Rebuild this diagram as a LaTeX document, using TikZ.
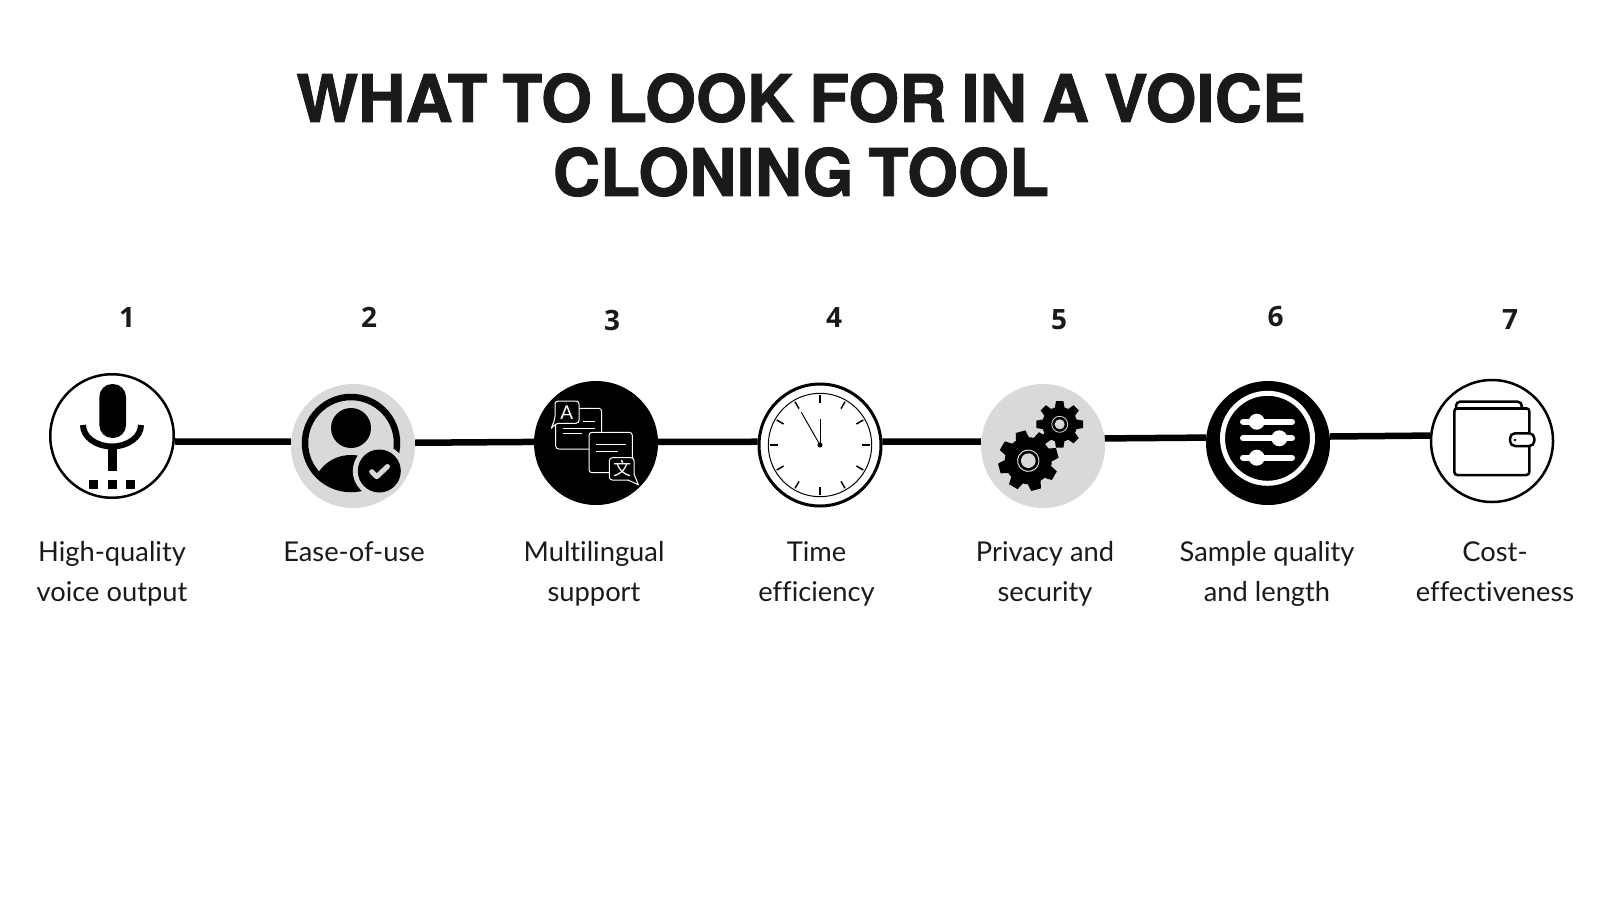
\documentclass[tikz,border=0pt]{standalone}
\usepackage{fontspec}
\setmainfont[Ligatures=NoCommon]{Lato}
\newfontfamily\titlefont[FakeBold=1.2,WordSpace=0.82]{TeX Gyre Heros Bold}
\newfontfamily\numerofont{Open Sans}
\newfontfamily\cjkfont{Noto Sans CJK SC}
\definecolor{gris}{HTML}{D9D9D9}
\definecolor{tinta}{HTML}{1A1A1A}

\begin{document}
\begin{tikzpicture}[x=1pt,y=-1pt]
\tikzstyle{circulo}=[circle,draw=black,line width=2.5pt,fill=white,minimum size=122pt,inner sep=0pt]
\tikzstyle{circulo gris}=[circle,fill=gris,minimum size=124pt,inner sep=0pt]
\tikzstyle{circulo negro}=[circle,fill=black,minimum size=124pt,inner sep=0pt]
\tikzstyle{numero}=[font=\numerofont\fontsize{28}{28}\selectfont\bfseries,text=tinta]
\tikzstyle{etiqueta}=[font=\fontsize{27.3}{40}\selectfont,align=center,text=tinta,anchor=north]
\tikzstyle{enlace}=[line width=6.5pt,black]
\tikzstyle{burbuja}=[draw=white,line width=1pt,fill=black,rounded corners=3pt]
\tikzstyle{rayita}=[draw=white,line width=1pt]

\useasboundingbox (0,0) rectangle (1600,900);

\node[font=\titlefont\fontsize{65.5}{74}\selectfont,align=center,text=tinta] (titulo) at (801,135) {WHAT TO LOOK FOR IN A VOICE\\CLONING TOOL};

\node[circulo,minimum size=123.5pt] (micro) at (112,436) {};
\node[circulo gris] (usuario) at (353,446) {};
\node[circulo negro] (idiomas) at (596,443) {};
\node[circulo,line width=3pt] (reloj) at (820,445) {};
\node[circulo gris] (engranes) at (1043,446) {};
\node[circulo negro] (ajustes) at (1268,443) {};
\node[circulo] (cartera) at (1492,441) {};

\draw[enlace] (micro.-5.5) -- (usuario.176.3);
\draw[enlace] (usuario.3.7) -- (idiomas.179);
\draw[enlace] (idiomas.1) -- (reloj.177);
\draw[enlace] (reloj.3) -- (engranes.176.3);
\draw[enlace] (engranes.7.4) -- (ajustes.175);
\draw[enlace] (ajustes.6.5) -- (cartera.175.4);

\node[numero] (n1) at (127,317) {1};
\node[numero] (n2) at (369,317) {2};
\node[numero] (n3) at (612,320) {3};
\node[numero] (n4) at (834,317) {4};
\node[numero] (n5) at (1059,320) {5};
\node[numero] (n6) at (1275.5,317) {6};
\node[numero] (n7) at (1510,320) {7};

\node[etiqueta] (t1) at (112,538) {High-quality\\voice output};
\node[etiqueta] (t2) at (354,538) {Ease-of-use};
\node[etiqueta] (t3) at (594,538) {Multilingual\\support};
\node[etiqueta] (t4) at (816.5,538) {Time\\efficiency};
\node[etiqueta] (t5) at (1045,538) {Privacy and\\security};
\node[etiqueta] (t6) at (1267,538) {Sample quality\\and length};
\node[etiqueta] (t7) at (1495,538) {Cost-\\effectiveness};

% microfono
\fill[rounded corners=13pt] (99.3,384) rectangle (126,438);
\draw[line width=6pt] (83,425) arc[start angle=180,end angle=0,x radius=29,y radius=21.5];
\fill (107.7,448) rectangle (116.7,470.7);
\foreach \x in {89.3,107.7,126} \fill (\x,480) rectangle ++(9,8.7);

% usuario
\draw[line width=6.5pt] (351,443) circle (46);
\begin{scope}
\clip (351,443) circle (46);
\fill (351,491) ellipse (38 and 36);
\end{scope}
\fill (351,428) circle (20);
\fill[gris] (379.3,471) circle (26.5);
\fill (379.3,471) circle (21.5);
\draw[gris,line width=5pt,line cap=round,line join=round] (371.7,471.7) -- (376.7,476.7) -- (387.5,466.5);

% idiomas
\draw[burbuja] (555.7,408.3) rectangle (601.7,449);
\draw[rayita] (583.3,421.7) -- (595,421.7);
\draw[rayita] (563.3,428.3) -- (595,428.3);
\draw[rayita] (563.3,433.3) -- (581.7,433.3);
\draw[burbuja] (589,432.3) rectangle (632.3,472.7);
\draw[rayita] (596,444) -- (625.7,444);
\draw[rayita] (596,451.7) -- (618.3,451.7);
\draw[burbuja] (579,401) -- (579,423.3) -- (556,423.3) -- (550.7,429.3) -- (555,419) -- (555,401) -- cycle;
\node[text=white,font=\fontsize{19}{19}\selectfont,inner sep=0pt] (letra) at (566.7,412.5) {A};
\draw[burbuja] (609.3,457.7) rectangle (634,480);
\draw[draw=white,line width=1pt,fill=black] (628,480) -- (638.3,484.7) -- (634,474);
\node[text=white,font=\cjkfont\fontsize{18}{18}\selectfont,inner sep=0pt] (caracter) at (622,469) {文};

% reloj
\draw[line width=1pt] (820,445) circle (51.7);
\foreach \a in {0,30,...,330} \draw[line width=1.5pt] (\a:42) ++(820,445) -- ++(\a:8);
\fill (820,445) circle (2.5);
\draw[line width=1pt] (820,445) -- (820,419);
\draw[line width=1pt] (820,445) -- (801.3,412.3);

% engranes
\begin{scope}[shift={(1028.3,460.7)},rotate=15]
\fill (0,0) circle (23.5);
\foreach \a in {0,45,...,315} \fill[rotate=\a] (21,-7) -- (30,-5) -- (30,5) -- (21,7) -- cycle;
\draw[gris,line width=1pt] (0,0) circle (10.7);
\fill[gris] (0,0) circle (7.3);
\end{scope}
\begin{scope}[shift={(1059.7,424.3)}]
\fill[gris] (0,0) circle (19);
\fill (0,0) circle (17.5);
\foreach \a in {0,45,...,315} \fill[rotate=\a] (15.5,-5) -- (23.3,-3.7) -- (23.3,3.7) -- (15.5,5) -- cycle;
\draw[gris,line width=.8pt] (0,0) circle (8);
\fill[gris] (0,0) circle (5);
\end{scope}

% ajustes
\draw[white,line width=5pt] (1267.5,438.3) circle (45);
\foreach \y/\x in {421.7/1256.7,438.3/1279.3,457.7/1256.7} {
  \draw[white,line width=6pt,line cap=round] (1243,\y) -- (1292,\y);
  \fill[white] (\x,\y) circle (8);
}

% cartera
\draw[line width=2.5pt,rounded corners=4pt] (1456,410) -- (1456,401.7) -- (1521.7,401.7) -- (1521.7,409);
\draw[line width=2.5pt,rounded corners=3pt] (1454.3,408.3) rectangle (1529.3,475);
\draw[line width=3pt] (1456,408.3) -- (1527,408.3);
\draw[line width=2.5pt,fill=white,rounded corners=5pt] (1534.3,433.3) -- (1510,433.3) -- (1510,446) -- (1534.3,446) -- cycle;
\fill (1515,440) circle (1.3);
\end{tikzpicture}
\end{document}
